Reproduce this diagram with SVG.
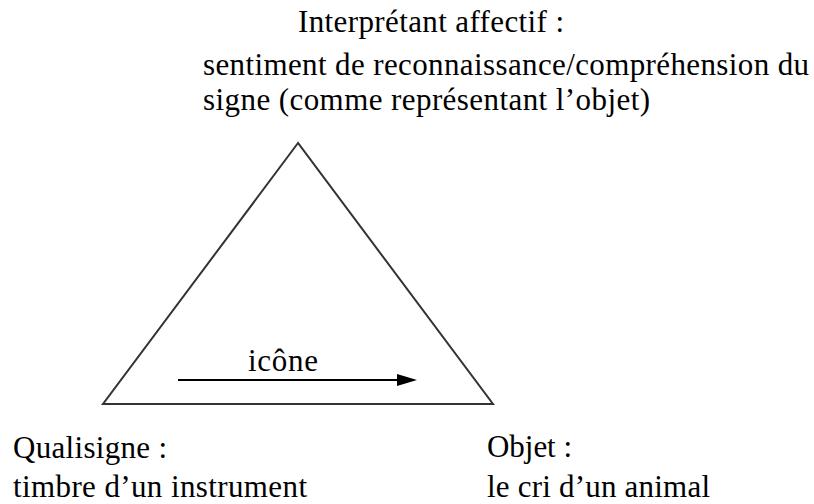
<svg xmlns="http://www.w3.org/2000/svg" width="814" height="504" viewBox="0 0 814 504">
<style>
text { font-family: "Liberation Serif", "DejaVu Serif", "Times New Roman", serif; font-size: 31px; fill: #000; }
.tri { fill: none; stroke: #333; stroke-width: 2; stroke-linejoin: miter; }
.arr { stroke: #000; stroke-width: 2; fill: none; }
</style>
<rect x="0" y="0" width="814" height="504" fill="#fff"/>
<g id="triangle">
<polygon class="tri" points="298,143 103,404 493,404"/>
</g>
<g id="interpretant">
<text x="298" y="32" textLength="266" lengthAdjust="spacing">Interprétant affectif :</text>
<text x="203" y="75" textLength="606" lengthAdjust="spacing">sentiment de reconnaissance/compréhension du</text>
<text x="203" y="110" textLength="447" lengthAdjust="spacing">signe (comme représentant l’objet)</text>
</g>
<g id="qualisigne">
<text x="13" y="458" textLength="154" lengthAdjust="spacing">Qualisigne :</text>
<text x="13" y="497" textLength="294" lengthAdjust="spacing">timbre d’un instrument</text>
</g>
<g id="objet">
<text x="487" y="457" textLength="85" lengthAdjust="spacing">Objet :</text>
<text x="487" y="497" textLength="223" lengthAdjust="spacing">le cri d’un animal</text>
</g>
<g id="connectors">
<g id="icone">
<line class="arr" x1="178" y1="380" x2="400" y2="380"/>
<path d="M397,374 L417,380 L397,386 Z" fill="#000"/>
<text x="248" y="371" textLength="70" lengthAdjust="spacing">icône</text>
</g>
</g>
</svg>
